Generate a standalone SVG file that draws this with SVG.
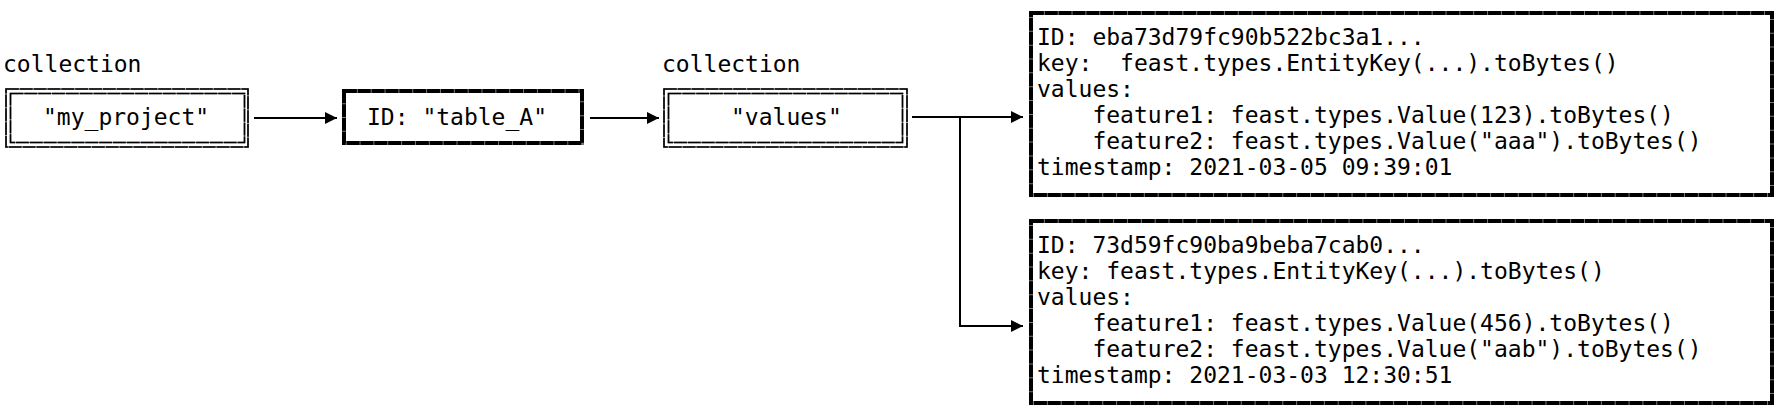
<svg xmlns="http://www.w3.org/2000/svg" width="1780" height="418" viewBox="0 0 1780 418">
<style>
text { font-family: "DejaVu Sans Mono", "Liberation Mono", monospace; font-size: 23px; fill: #000; }
.thick-base { fill: #fff; stroke: #777; stroke-width: 4; }
.thick { fill: none; stroke: #000; stroke-width: 4; stroke-dasharray: 12.85 1; }
.dbl-base { fill: #fff; stroke: #888; stroke-width: 1.6; }
.dbl { fill: none; stroke: #000; stroke-width: 1.6; stroke-dasharray: 12.85 1; }
.conn { fill: none; stroke: #000; stroke-width: 2; }
</style>
<defs>
<marker id="arrow" viewBox="0 0 12 12" refX="12" refY="6" markerWidth="12" markerHeight="12" markerUnits="userSpaceOnUse" orient="auto">
<path d="M0,0 L12,6 L0,12 Z" fill="#000"/>
</marker>
</defs>
<rect width="1780" height="418" fill="#fff"/>
<g id="label-collection-1"><text x="3" y="72">collection</text></g>
<g id="label-collection-2"><text x="662" y="72">collection</text></g>
<g id="node-my-project">
<rect class="dbl-base" x="6" y="89" width="242" height="58"/>
<rect class="dbl" x="6" y="89" width="242" height="58"/>
<rect class="dbl-base" x="10.5" y="93.5" width="234" height="49"/>
<rect class="dbl" x="10.5" y="93.5" width="234" height="49"/>
<text x="43" y="125">"my_project"</text>
</g>
<g id="node-table-a">
<rect class="thick-base" x="344" y="91" width="238" height="52"/>
<rect class="thick" x="344" y="91" width="238" height="52"/>
<text x="367" y="125">ID: "table_A"</text>
</g>
<g id="node-values">
<rect class="dbl-base" x="664" y="89" width="243" height="58"/>
<rect class="dbl" x="664" y="89" width="243" height="58"/>
<rect class="dbl-base" x="668.5" y="93.5" width="234" height="49"/>
<rect class="dbl" x="668.5" y="93.5" width="234" height="49"/>
<text x="731" y="125">"values"</text>
</g>
<g id="node-record-1">
<rect class="thick-base" x="1031" y="13" width="741" height="182"/>
<rect class="thick" x="1031" y="13" width="741" height="182"/>
<text x="1037" y="45">ID: eba73d79fc90b522bc3a1...</text>
<text x="1037" y="71" xml:space="preserve">key:  feast.types.EntityKey(...).toBytes()</text>
<text x="1037" y="97">values:</text>
<text x="1092.4" y="123">feature1: feast.types.Value(123).toBytes()</text>
<text x="1092.4" y="149">feature2: feast.types.Value("aaa").toBytes()</text>
<text x="1037" y="175">timestamp: 2021-03-05 09:39:01</text>
</g>
<g id="node-record-2">
<rect class="thick-base" x="1031" y="221" width="741" height="182"/>
<rect class="thick" x="1031" y="221" width="741" height="182"/>
<text x="1037" y="253">ID: 73d59fc90ba9beba7cab0...</text>
<text x="1037" y="279">key: feast.types.EntityKey(...).toBytes()</text>
<text x="1037" y="305">values:</text>
<text x="1092.4" y="331">feature1: feast.types.Value(456).toBytes()</text>
<text x="1092.4" y="357">feature2: feast.types.Value("aab").toBytes()</text>
<text x="1037" y="383">timestamp: 2021-03-03 12:30:51</text>
</g>
<g id="connectors">
<path class="conn" d="M254,118 H337" marker-end="url(#arrow)"/>
<path class="conn" d="M590,118 H659" marker-end="url(#arrow)"/>
<path class="conn" d="M912,117 H1023" marker-end="url(#arrow)"/>
<path class="conn" d="M960,117 V326 H1023" marker-end="url(#arrow)"/>
</g>
</svg>
